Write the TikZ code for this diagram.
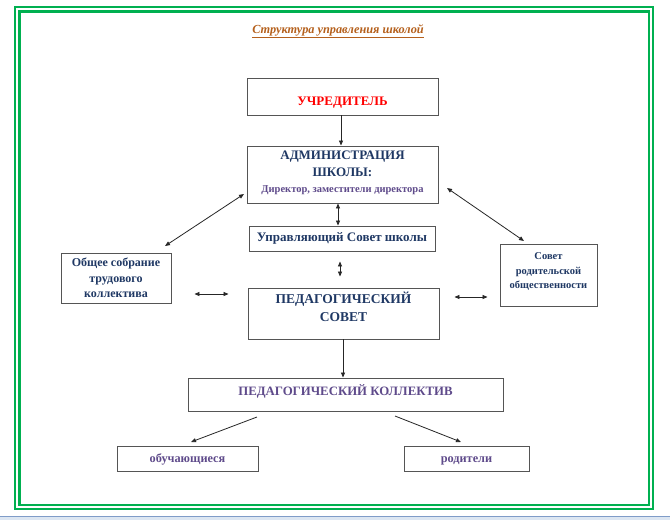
\documentclass[tikz,border=0pt]{standalone}
\usepackage{fontspec}
\setmainfont{Liberation Serif}
\usetikzlibrary{arrows.meta}
\definecolor{framegreen}{HTML}{00B050}
\definecolor{titlebrown}{HTML}{B5601C}
\definecolor{navy}{HTML}{1F3864}
\definecolor{violet}{HTML}{5F4B8B}
\definecolor{boxgray}{HTML}{555555}
\definecolor{bottomline}{HTML}{7F9CC8}
\definecolor{bottomfill}{HTML}{DCE6F2}
\newcommand{\fs}[1]{\fontsize{#1}{#1}\selectfont}
\begin{document}
\begin{tikzpicture}[x=1pt,y=-1pt,
  box/.style={draw=boxgray, line width=0.9pt, fill=white, inner sep=0pt, font=\bfseries, align=center, text=navy},
  tip/.tip={Triangle[length=5pt,width=4pt]},
  arr/.style={-tip, line width=0.8pt, draw=black!85},
  darr/.style={tip-tip, line width=0.8pt, draw=black!85}]
\useasboundingbox (0,0) rectangle (670,520);
\fill[white] (0,0) rectangle (670,520);
\draw[framegreen, line width=2.4pt] (15,7) rectangle (653,509);
\draw[framegreen, line width=2.4pt] (19.5,11.5) rectangle (649,505);
\fill[bottomfill] (0,516) rectangle (670,520);
\draw[bottomline, line width=1pt] (0,516) -- (670,516);

\node[font=\bfseries\itshape\fs{12.3}, text=titlebrown] (title) at (338,31.5) {\underline{Структура управления школой}};

\node[box, minimum width=191pt, minimum height=37pt, text=red, font=\bfseries\fs{13}, text height=18pt, text depth=0pt] (uch) at (342.5,96.5) {УЧРЕДИТЕЛЬ};
\node[box, minimum width=191pt, minimum height=57pt, font=\bfseries\fs{13}, text depth=6pt] (adm) at (342.5,174.5)
  {АДМИНИСТРАЦИЯ\\[4.5pt] ШКОЛЫ:\\[3pt] {\fs{10.5}\color{violet}Директор, заместители директора}};
\node[box, minimum width=186pt, minimum height=25pt, font=\bfseries\fs{13}] (upr) at (342,238.5) {Управляющий Совет школы};
\node[box, minimum width=110pt, minimum height=50pt, font=\bfseries\fs{12}] (obs) at (116,278)
  {Общее собрание\\[3.5pt] трудового\\[3.5pt] коллектива};
\node[box, minimum width=191pt, minimum height=51pt, font=\bfseries\fs{13.5}, text depth=14pt] (ped) at (343.5,313.5)
  {ПЕДАГОГИЧЕСКИЙ\\[5pt] СОВЕТ};
\node[box, minimum width=97pt, minimum height=62pt, font=\bfseries\fs{10.5}, text depth=8pt] (sov) at (548.5,275)
  {Совет\\[4pt] родительской\\[4pt] общественности};
\node[box, minimum width=315pt, minimum height=33pt, font=\bfseries\fs{12.8}, text=violet, text depth=8pt] (kol) at (345.5,394.5)
  {ПЕДАГОГИЧЕСКИЙ КОЛЛЕКТИВ};
\node[box, minimum width=141pt, minimum height=25pt, font=\bfseries\fs{12.3}, text=violet, text height=10pt] (obu) at (187.5,458.5) {обучающиеся};
\node[box, minimum width=125pt, minimum height=25pt, font=\bfseries\fs{12.3}, text=violet, text height=10pt] (rod) at (466.5,458.5) {родители};

\coordinate (a1) at (244,194);
\coordinate (a2) at (165,246);
\coordinate (b1) at (447,188);
\coordinate (b2) at (524,241);
\coordinate (k1) at (257,417);
\coordinate (k2) at (191,442);
\coordinate (r1) at (395,416);
\coordinate (r2) at (461,442);

\draw[arr] (uch.south -| 341,0) -- (adm.north -| 341,0);
\draw[darr] (adm.south -| 338,0) -- (upr.north -| 338,0);
\draw[darr, shorten <=10pt, shorten >=11pt] (upr.south -| 340,0) -- (ped.north -| 340,0);
\draw[darr] (a1) -- (a2);
\draw[darr] (b1) -- (b2);
\draw[darr, shorten <=23pt, shorten >=19pt] (obs.east |- 0,294) -- (ped.west |- 0,294);
\draw[darr, shorten <=15pt, shorten >=12pt] (ped.east |- 0,297) -- (sov.west |- 0,297);
\draw[arr] (ped.south -| 343,0) -- (kol.north -| 343,0);
\draw[arr] (k1) -- (k2);
\draw[arr] (r1) -- (r2);
\end{tikzpicture}
\end{document}
